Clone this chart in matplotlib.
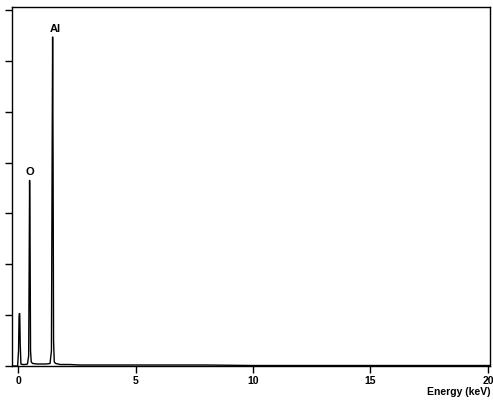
import matplotlib
matplotlib.use('Agg')
import matplotlib.pyplot as plt

# EDX spectrum (energy in keV, counts in arbitrary units)
energy_kev = [-0.25, -0.02, 0.02, 0.04, 0.05, 0.07, 0.09, 0.12, 0.20, 0.30,
              0.40, 0.45, 0.47, 0.49, 0.51, 0.53, 0.56, 0.62, 0.80, 1.00,
              1.20, 1.36, 1.42, 1.45, 1.47, 1.49, 1.51, 1.54, 1.60, 1.80,
              2.20, 2.60, 3.00, 4.00, 5.00, 6.00, 8.00, 10.00, 12.00, 14.00,
              16.00, 18.00, 20.10]
counts = [0, 0, 30, 95, 103, 103, 45, 4, 3, 3,
          4, 20, 180, 365, 250, 30, 8, 5, 4, 4,
          4, 5, 30, 420, 647, 400, 50, 8, 5, 3,
          3, 2, 2, 2, 2, 2, 2, 1, 1, 1,
          1, 1, 1]

peak_names = ['O', 'Al']
peak_energy = [0.49, 1.47]
peak_counts = [365, 647]

x_ticks = [0, 5, 10, 15, 20]


def gerar_grafico():
    fig = plt.figure(figsize=(4.93, 4.04), dpi=100)
    ax = fig.add_axes([0.0243, 0.094, 0.9696, 0.8887])

    ax.plot(energy_kev, counts, color='black', linewidth=1.0)

    # rótulos dos picos
    desloc = [0.02, 0.12]
    for nome, e, c, d in zip(peak_names, peak_energy, peak_counts, desloc):
        ax.text(e + d, c + 6, nome, ha='center', va='bottom',
                fontsize=8, fontweight='bold', family='Liberation Sans')

    ax.set_xlim(-0.26, 20.09)
    ax.set_ylim(0, 706)
    ax.set_xticks(x_ticks)
    ax.set_xticklabels([str(t) for t in x_ticks], fontsize=7.5,
                       fontweight='bold', family='Liberation Sans')
    ax.set_yticks(range(0, 701, 100))
    ax.set_yticklabels([])
    ax.tick_params(axis='both', direction='out', length=5, width=1,
                   pad=2, color='black')

    for s in ax.spines.values():
        s.set_linewidth(1.0)
        s.set_color('black')

    fig.text(0.995, 0.03, 'Energy (keV)', ha='right', va='center',
             fontsize=7.5, fontweight='bold', family='Liberation Sans')

    fig.savefig('out.png', dpi=100)


def main():
    gerar_grafico()


if __name__ == "__main__":
    main()
